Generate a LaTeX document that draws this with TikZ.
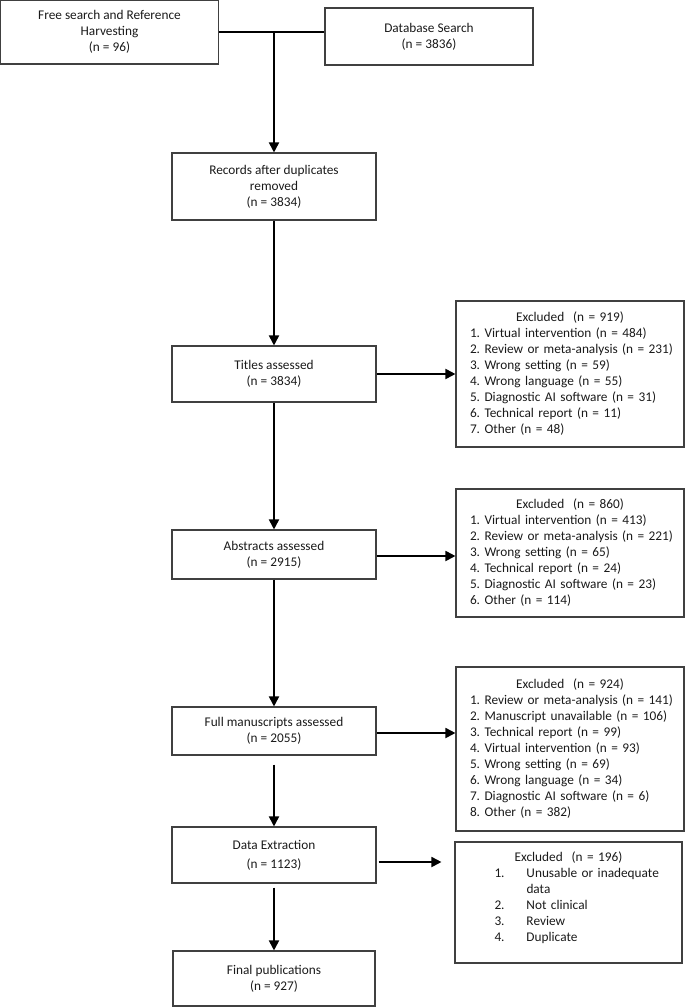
\documentclass[tikz,border=0pt]{standalone}
\usepackage{fontspec}
\setmainfont{Carlito}
\usetikzlibrary{arrows.meta}
\definecolor{boxgray}{HTML}{404040}
\definecolor{txt}{HTML}{1a1a1a}
\newcommand{\li}[1]{\mbox{#1}}
\begin{document}
\frenchspacing
\begin{tikzpicture}[x=1pt,y=-1pt,
  box/.style={draw=boxgray, line width=1.1pt, inner sep=0pt, align=center,
    font=\fontsize{13.3}{16}\selectfont\frenchspacing, text=txt},
  exbox/.style={box, align=left, text width=200pt, minimum width=228pt},
  arr/.style={line width=1.8pt, -{Triangle[length=10pt,width=10pt]}},
  link/.style={line width=1.8pt}]
\useasboundingbox (0,0) rectangle (685,1007);

\node[box, minimum width=218pt, minimum height=64pt] (free) at (109.5,32)
  {Free search and Reference\\Harvesting\\(n = 96)};
\node[box, minimum width=208pt, minimum height=57pt] (db) at (429,36.5)
  {Database Search\\(n = 3836)};
\node[box, minimum width=204pt, minimum height=67pt] (rec) at (274,186.5)
  {Records after duplicates\\removed\\(n = 3834)};
\node[box, minimum width=204pt, minimum height=56pt] (tit) at (274,374)
  {Titles assessed\\(n = 3834)};
\node[box, minimum width=204pt, minimum height=49pt] (abs) at (274,554.5)
  {Abstracts assessed\\(n = 2915)};
\node[box, minimum width=204pt, minimum height=48pt] (full) at (274,731)
  {Full manuscripts assessed\\(n = 2055)};
\node[box, minimum width=204pt, minimum height=56pt] (data) at (274,855)
  {Data Extraction\\[3pt](n = 1123)};
\node[box, minimum width=202pt, minimum height=55pt] (final) at (274,978.5)
  {Final publications\\(n = 927)};

\node[exbox, minimum height=146pt] (ex1) at (570,374)
  {\makebox[200pt][c]{Excluded\ \ (n = 919)}\\
   \li{1. Virtual intervention (n = 484)}\\
   \li{2. Review or meta-analysis (n = 231)}\\
   \li{3. Wrong setting (n = 59)}\\
   \li{4. Wrong language (n = 55)}\\
   \li{5. Diagnostic AI software (n = 31)}\\
   \li{6. Technical report (n = 11)}\\
   \li{7. Other (n = 48)}};
\node[exbox, minimum height=128pt] (ex2) at (570,553)
  {\makebox[200pt][c]{Excluded\ \ (n = 860)}\\
   \li{1. Virtual intervention (n = 413)}\\
   \li{2. Review or meta-analysis (n = 221)}\\
   \li{3. Wrong setting (n = 65)}\\
   \li{4. Technical report (n = 24)}\\
   \li{5. Diagnostic AI software (n = 23)}\\
   \li{6. Other (n = 114)}};
\node[exbox, minimum height=164pt] (ex3) at (570,749)
  {\makebox[200pt][c]{Excluded\ \ (n = 924)}\\
   \li{1. Review or meta-analysis (n = 141)}\\
   \li{2. Manuscript unavailable (n = 106)}\\
   \li{3. Technical report (n = 99)}\\
   \li{4. Virtual intervention (n = 93)}\\
   \li{5. Wrong setting (n = 69)}\\
   \li{6. Wrong language (n = 34)}\\
   \li{7. Diagnostic AI software (n = 6)}\\
   \li{8. Other (n = 382)}};
\node[exbox, minimum width=227pt, minimum height=121pt] (ex4) at (568.5,902.5)
  {\makebox[200pt][c]{Excluded\ \ (n = 196)}\\
   \hspace*{26pt}\makebox[32pt][l]{1.}\li{Unusable or inadequate}\\
   \hspace*{58pt}data\\
   \hspace*{26pt}\makebox[32pt][l]{2.}\li{Not clinical}\\
   \hspace*{26pt}\makebox[32pt][l]{3.}Review\\
   \hspace*{26pt}\makebox[32pt][l]{4.}Duplicate\\[-5pt]\mbox{}};

% top merge
\coordinate (j) at (free.east -| rec.north);
\draw[link] (free.east) -- (free.east -| db.west);
\draw[arr] (j) -- (rec.north);

% main flow
\draw[arr] (rec.south) -- (tit.north);
\draw[arr] (tit.south) -- (abs.north);
\draw[arr] (abs.south) -- (full.north);
\draw[arr, shorten <=9pt] (full.south) -- (data.north);
\draw[arr, shorten <=4pt] (data.south) -- (final.north);

% exclusions
\draw[arr] (tit.east) -- (tit.east -| ex1.west);
\draw[arr] ([yshift=-1.5pt]abs.east) -- ([yshift=-1.5pt]abs.east -| ex2.west);
\draw[arr] ([yshift=-2pt]full.east) -- ([yshift=-2pt]full.east -| ex3.west);
\coordinate (a4) at ([yshift=-7pt]data.east);
\draw[arr, shorten <=2pt, shorten >=13pt] (a4) -- (a4 -| ex4.west);
\end{tikzpicture}
\end{document}
